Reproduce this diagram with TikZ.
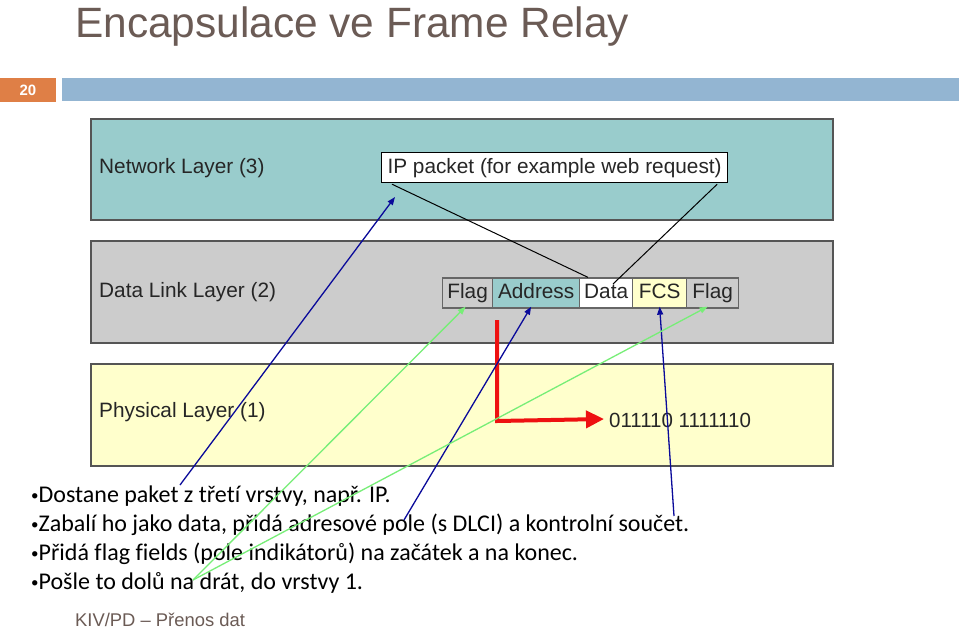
\documentclass[tikz,border=0pt]{standalone}
\usepackage{fontspec}
\setmainfont[Ligatures={NoCommon}]{Carlito}
\newfontfamily\arialf{Liberation Sans}
\usetikzlibrary{arrows.meta,calc}
\definecolor{titlec}{HTML}{6B5B55}
\definecolor{orangec}{HTML}{DF7F46}
\definecolor{barc}{HTML}{93B5D2}
\definecolor{netc}{HTML}{99CCCC}
\definecolor{dlc}{HTML}{CCCCCC}
\definecolor{phyc}{HTML}{FFFFCC}
\definecolor{edgec}{HTML}{555555}
\definecolor{navyc}{HTML}{0A0A9A}
\definecolor{greenc}{HTML}{77EE77}
\definecolor{redc}{HTML}{EE1111}
\newcommand{\bul}{{\fontsize{15}{16}\selectfont\raisebox{1.5pt}{•}}}
\tikzset{
  layerbox/.style={draw=edgec, line width=1.6pt, anchor=north west, inner sep=0pt},
  layerlabel/.style={anchor=west, font=\arialf\fontsize{20.8}{22}\selectfont, text=black!85, inner sep=0pt},
  field/.style={draw=edgec!90, line width=1.3pt, anchor=west, inner sep=0pt, minimum height=30pt,
    text height=15pt, text depth=4pt,
    font=\arialf\fontsize{20.8}{22}\selectfont, text=black!85},
  bluearrow/.style={draw=navyc, line width=1.3pt, -{Triangle[length=8pt,width=6pt]}},
  greenarrow/.style={draw=greenc, line width=1.3pt, -{Triangle[length=8pt,width=6pt]}},
  blackline/.style={draw=black, line width=1pt},
  bullet/.style={anchor=base west, font=\fontsize{24}{26}\selectfont, inner sep=0pt},
}
\begin{document}
\begin{tikzpicture}[x=1pt,y=-1pt]
\useasboundingbox[fill=white] (0,0) rectangle (959,630);
% header
\node[anchor=base west, inner sep=0pt, font=\arialf\fontsize{42.4}{46}\selectfont, text=titlec] (title) at (75,37) {Encapsulace ve Frame Relay};
\fill[orangec] (0,78) rectangle (56,102);
\node[font=\arialf\bfseries\fontsize{15}{16}\selectfont, text=white, inner sep=0pt] (pagenum) at (28,90) {20};
\fill[barc] (62,78) rectangle (959,101);
% layers
\node[layerbox, fill=netc, minimum width=742pt, minimum height=101pt] (net) at (90,118) {};
\node[layerbox, fill=dlc, minimum width=742pt, minimum height=102pt] (dl) at (90,240) {};
\node[layerbox, fill=phyc, minimum width=742pt, minimum height=102pt] (phy) at (90,363) {};
\node[layerlabel] (netlab) at (99,168) {Network Layer (3)};
\node[layerlabel] (dllab) at (99,292) {Data Link Layer (2)};
\node[layerlabel] (phylab) at (99,412) {Physical Layer (1)};
% IP packet
\node[draw=black, line width=1.2pt, fill=white, anchor=north west, minimum width=346pt, minimum height=30pt, inner sep=0pt,
  text height=15pt, text depth=4pt,
  font=\arialf\fontsize{20.8}{22}\selectfont, text=black!85] (ip) at (381,152) {IP packet (for example web request)};
% frame fields
\node[field, fill=dlc, minimum width=50pt] (flag1) at (442,293) {Flag};
\node[field, fill=netc, minimum width=87pt] (addr) at (492,293) {Address};
\node[field, fill=white, minimum width=53pt] (data) at (579,293) {Data};
\node[field, fill=phyc, minimum width=54pt] (fcs) at (632,293) {FCS};
\node[field, fill=dlc, minimum width=52pt] (flag2) at (686,293) {Flag};
% black lines
\coordinate (dataIn) at (613,284);
\draw[blackline] ([xshift=11pt,yshift=-1pt]ip.south west) -- ([xshift=9pt]data.north west);
\draw[blackline] ([xshift=-11pt,yshift=-1pt]ip.south east) -- (dataIn);
% physical bits
\node[anchor=west, inner sep=0pt, font=\arialf\fontsize{20.5}{22}\selectfont, text=black!85] (bits) at (609,420) {011110 1111110};
\coordinate (redtop) at (497,320);
\coordinate (redcorner) at (497,421);
\draw[redc, line width=4pt, -{Triangle[length=18pt,width=17pt]}] (redtop) -- (redcorner) -- ([xshift=-5pt,yshift=1pt]bits.west);
% bullet text
\node[bullet] (b1) at (31,502) {\bul Dostane paket z třetí vrstvy, např. IP.};
\node[bullet] (b2) at (31,531) {\bul Zabalí ho jako data, přidá adresové pole (s DLCI) a kontrolní součet.};
\node[bullet] (b3) at (31,560) {\bul Přidá flag fields (pole indikátorů) na začátek a na konec.};
\node[bullet] (b4) at (31,589) {\bul Pošle to dolů na drát, do vrstvy 1.};
% footer
\node[anchor=west, inner sep=0pt, font=\arialf\fontsize{18.4}{20}\selectfont, text=titlec] (footer) at (75,620) {KIV/PD – Přenos dat};
% arrows
\coordinate (t1) at (180,485);
\coordinate (t2) at (404,520);
\coordinate (t3) at (674,516);
\coordinate (tg) at (193,580);
\coordinate (ipTip) at (395,197);
\draw[bluearrow] (t1) -- (ipTip);
\draw[bluearrow] (t2) -- ([xshift=-5pt,yshift=2pt]addr.south);
\draw[bluearrow] (t3) -- ([xshift=0pt,yshift=2pt]fcs.south);
\draw[greenarrow] (tg) -- ([xshift=-2pt,yshift=2pt]flag1.south);
\draw[greenarrow] (tg) -- ([xshift=-5pt,yshift=2pt]flag2.south);
\end{tikzpicture}
\end{document}
